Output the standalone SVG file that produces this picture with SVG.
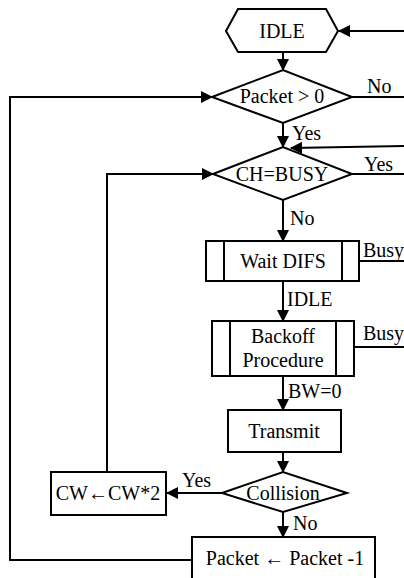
<svg xmlns="http://www.w3.org/2000/svg" width="404" height="578" viewBox="0 0 404 578" font-family="'Liberation Serif', 'DejaVu Serif', serif" font-size="20">
<style>
.s{fill:#fff;stroke:#000;stroke-width:2}
.c{fill:none;stroke:#000;stroke-width:2}
.t{font-family:'Liberation Serif','DejaVu Serif',serif;font-size:20px;fill:#000}
.m{text-anchor:middle}
</style>
<defs>
<marker id="ah" markerUnits="userSpaceOnUse" markerWidth="12" markerHeight="12" viewBox="0 0 12 12" refX="11" refY="6" orient="auto">
<path d="M0,0 L12,6 L0,12 z" fill="#000"/>
</marker>
</defs>
<rect width="404" height="578" fill="#fff"/>
<g id="connectors">
<path class="c" d="M404,31 L339,31" marker-end="url(#ah)"/>
<path class="c" d="M283,52 L283,70" marker-end="url(#ah)"/>
<path class="c" d="M352,97 L404,97"/>
<path class="c" d="M283,123 L283,147" marker-end="url(#ah)"/>
<path class="c" d="M404,146 L291,148" marker-end="url(#ah)"/>
<path class="c" d="M352,174 L404,174"/>
<path class="c" d="M283,200 L283,241" marker-end="url(#ah)"/>
<path class="c" d="M359,261 L404,261"/>
<path class="c" d="M283,281 L283,321" marker-end="url(#ah)"/>
<path class="c" d="M354,347 L404,347"/>
<path class="c" d="M283,376 L283,410" marker-end="url(#ah)"/>
<path class="c" d="M283,452 L283,472" marker-end="url(#ah)"/>
<path class="c" d="M222,493 L167,493" marker-end="url(#ah)"/>
<path class="c" d="M283,512 L283,537" marker-end="url(#ah)"/>
<path class="c" d="M192,560 L10,560 L10,97 L212,97" marker-end="url(#ah)"/>
<path class="c" d="M107,472 L107,174 L213,174" marker-end="url(#ah)"/>
<text class="t" x="367" y="93">No</text>
<text class="t" x="292" y="140">Yes</text>
<text class="t" x="364" y="171">Yes</text>
<text class="t" x="290" y="225">No</text>
<text class="t" x="363" y="257">Busy</text>
<text class="t" x="287" y="306">IDLE</text>
<text class="t" x="363" y="340">Busy</text>
<text class="t" x="288" y="398">BW=0</text>
<text class="t" x="182" y="487">Yes</text>
<text class="t" x="293" y="530">No</text>
</g>
<g id="idle">
<polygon class="s" points="226,31 238,9 326,9 338,31 326,52 238,52"/>
<text class="t m" x="282" y="38">IDLE</text>
</g>
<g id="packet-check">
<polygon class="s" points="212,97 283,70 352,97 283,123"/>
<text class="t m" x="282" y="103">Packet &gt; 0</text>
</g>
<g id="ch-busy">
<polygon class="s" points="213,174 283,147 352,174 283,200"/>
<text class="t m" x="282" y="181">CH=BUSY</text>
</g>
<g id="wait-difs">
<rect class="s" x="206" y="241" width="153" height="40"/>
<path class="c" d="M224,241 V281 M342,241 V281"/>
<text class="t m" x="283" y="268">Wait DIFS</text>
</g>
<g id="backoff">
<rect class="s" x="212" y="321" width="142" height="55"/>
<path class="c" d="M230,321 V376 M336,321 V376"/>
<text class="t m" x="283" y="343">Backoff</text>
<text class="t m" x="283" y="367">Procedure</text>
</g>
<g id="transmit">
<rect class="s" x="228" y="410" width="113" height="42"/>
<text class="t m" x="284" y="438">Transmit</text>
</g>
<g id="collision">
<polygon class="s" points="222,493 283,472 347,493 283,512"/>
<text class="t m" x="283" y="500">Collision</text>
</g>
<g id="cw-double">
<rect class="s" x="51" y="472" width="115" height="43"/>
<text class="t m" x="108" y="500">CW←CW*2</text>
</g>
<g id="packet-dec">
<rect class="s" x="192" y="537" width="183" height="60"/>
<text class="t m" x="285" y="565">Packet ← Packet -1</text>
</g>
</svg>
